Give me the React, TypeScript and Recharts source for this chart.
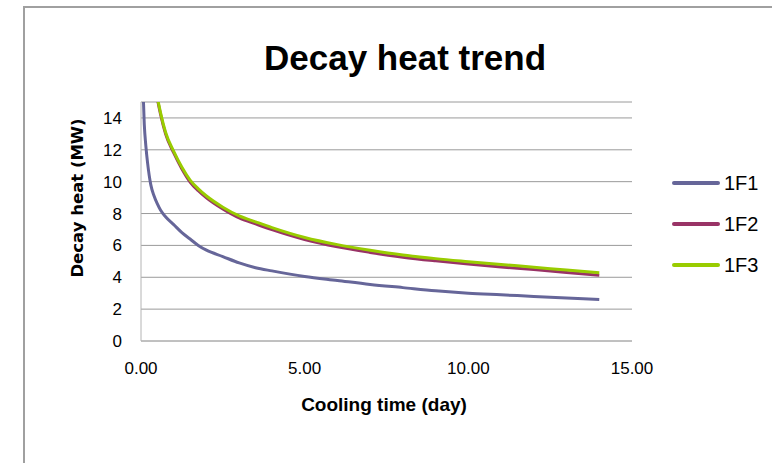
import { LineChart, Line, XAxis, YAxis, CartesianGrid } from "recharts";

// cooling time (day)
const days = [
  0.05, 0.1, 0.15, 0.2, 0.3, 0.4, 0.5, 0.6, 0.75, 1, 1.25, 1.5, 1.75, 2, 2.5, 3,
  3.5, 4, 5, 6, 7, 8, 9, 10, 11, 12, 13, 14,
];

// decay heat (MW)
const heat1F1 = [
  16.5, 13.6, 12.2, 11.2, 9.8, 9.1, 8.6, 8.2, 7.8, 7.3, 6.8, 6.4, 6.0, 5.7, 5.3,
  4.9, 4.6, 4.4, 4.05, 3.8, 3.55, 3.35, 3.15, 3.0, 2.9, 2.8, 2.7, 2.6,
];
const heat1F2 = [
  null, null, null, null, null, 16.4, 15.2, 14.2, 13.0, 11.8, 10.8, 9.98, 9.43,
  8.98, 8.28, 7.72, 7.35, 6.99, 6.37, 5.91, 5.56, 5.26, 5.03, 4.83, 4.65, 4.48,
  4.3, 4.13,
];
const heat1F3 = [
  null, null, null, null, null, 16.5, 15.3, 14.3, 13.1, 11.9, 10.9, 10.1, 9.55,
  9.1, 8.4, 7.85, 7.48, 7.12, 6.5, 6.05, 5.7, 5.4, 5.17, 4.98, 4.8, 4.63, 4.45,
  4.28,
];

const xTicks = [0, 5, 10, 15];
const yTicks = [0, 2, 4, 6, 8, 10, 12, 14];

const series = [
  { key: "1F1", color: "#666699" },
  { key: "1F2", color: "#993366" },
  { key: "1F3", color: "#99CC00" },
];

const data = days.map((day, i) => ({
  day,
  "1F1": heat1F1[i],
  "1F2": heat1F2[i],
  "1F3": heat1F3[i],
}));

const tickFont = { fontSize: 17, fill: "#000", fontFamily: "'Liberation Sans', Arial, sans-serif" };

export default function App() {
  return (
    <div
      style={{
        position: "absolute",
        left: 0,
        top: 0,
        width: 772,
        height: 463,
        overflow: "hidden",
        background: "#fff",
        fontFamily: "'Liberation Sans', Arial, sans-serif",
      }}
    >
      {/* chart area frame */}
      <div style={{ position: "absolute", left: 23, top: 6, width: 760, height: 2, background: "#a0a0a0" }} />
      <div style={{ position: "absolute", left: 23, top: 6, width: 2, height: 470, background: "#a0a0a0" }} />
      <div
        style={{
          position: "absolute",
          left: 0,
          width: 810,
          top: 38,
          textAlign: "center",
          fontSize: 35,
          fontWeight: "bold",
          lineHeight: "40px",
        }}
      >
        Decay heat trend
      </div>
      <div style={{ position: "absolute", left: 0, top: 0 }}>
        <LineChart width={772} height={463} data={data} margin={{ top: 102, right: 140, bottom: 0, left: 0 }}>
          <CartesianGrid vertical={false} stroke="#9a9a9a" />
          <XAxis
            dataKey="day"
            type="number"
            domain={[0, 15]}
            ticks={xTicks}
            tickFormatter={(v: number) => v.toFixed(2)}
            stroke="#b4b4b4"
            tickLine={false}
            tickSize={0}
            tickMargin={21}
            height={122}
            tick={tickFont}
          />
          <YAxis
            domain={[0, 15]}
            allowDataOverflow
            ticks={yTicks}
            stroke="#b4b4b4"
            tickLine={false}
            tickSize={0}
            tickMargin={19}
            width={141}
            tick={tickFont}
          />
          {series.map((s) => (
            <Line
              key={s.key}
              type="monotone"
              dataKey={s.key}
              stroke={s.color}
              strokeWidth={3}
              dot={false}
              isAnimationActive={false}
            />
          ))}
        </LineChart>
      </div>
      <div
        style={{
          position: "absolute",
          left: 77,
          top: 198,
          transform: "translate(-50%, -50%) rotate(-90deg)",
          whiteSpace: "nowrap",
          fontFamily: "'DejaVu Sans', Verdana, sans-serif",
          fontWeight: "bold",
          fontSize: 16.5,
        }}
      >
        Decay heat (MW)
      </div>
      <div
        style={{
          position: "absolute",
          left: 384,
          top: 405,
          transform: "translate(-50%, -50%)",
          whiteSpace: "nowrap",
          fontWeight: "bold",
          fontSize: 19,
        }}
      >
        Cooling time (day)
      </div>
      {series.map((s, i) => (
        <div
          key={s.key}
          style={{ position: "absolute", left: 672, top: 183 + i * 41 - 12, height: 24, display: "flex", alignItems: "center" }}
        >
          <div style={{ width: 48, height: 4, background: s.color, borderRadius: 2 }} />
          <span style={{ fontSize: 20, marginLeft: 4 }}>{s.key}</span>
        </div>
      ))}
    </div>
  );
}
